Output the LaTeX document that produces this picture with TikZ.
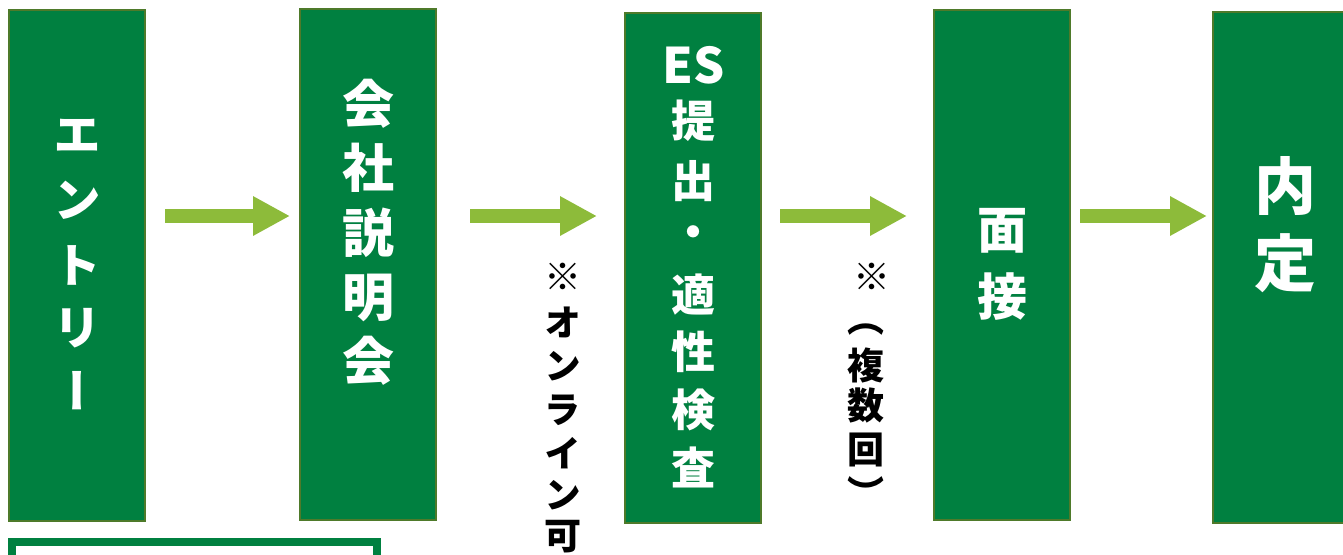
\documentclass[tikz,border=0pt]{standalone}
\usepackage{fontspec}
\usetikzlibrary{arrows.meta}
\newfontfamily\jp{Noto Sans CJK JP}[RawFeature=+vert]
\definecolor{boxg}{RGB}{0,128,64}
\definecolor{boxe}{RGB}{78,122,42}
\definecolor{arrg}{RGB}{141,187,58}
\tikzset{
  stage/.style={draw=boxe, fill=boxg, line width=1.5pt, minimum width=136pt,
    inner sep=0pt, outer sep=0pt, anchor=north west},
  arr/.style={draw=arrg, line width=14pt, -{Triangle[length=37pt,width=37pt]}},
  wt/.style={text=white, inner sep=0pt, outer sep=0pt, anchor=center},
  bt/.style={text=black, inner sep=0pt, outer sep=0pt, anchor=center},
}
\begin{document}
\begin{tikzpicture}[x=1pt,y=-1pt]
\useasboundingbox (0,0) rectangle (1343,554);
% stages
\node[stage, minimum height=511pt] (b1) at (9,10) {};
\node[stage, minimum height=511pt] (b2) at (300,9) {};
\node[stage, minimum height=510pt] (b3) at (625,13) {};
\node[stage, minimum height=510pt] (b4) at (934,10) {};
\node[stage, minimum height=511pt] (b5) at (1213,12) {};
% legend frame
\node[draw=boxg, line width=8pt, minimum width=365pt, minimum height=90pt,
  inner sep=0pt, outer sep=0pt, anchor=north west] (lg) at (12,542) {};
% arrows
\coordinate (ay) at (0,216);
\draw[arr] ([xshift=20pt]b1.east |- ay) -- ([xshift=-10pt]b2.west |- ay);
\draw[arr] ([xshift=34pt]b2.east |- ay) -- ([xshift=-28pt]b3.west |- ay);
\draw[arr] ([xshift=19pt]b3.east |- ay) -- ([xshift=-27pt]b4.west |- ay);
\draw[arr] ([xshift=10pt]b4.east |- ay) -- ([xshift=-6pt]b5.west |- ay);
% texts in stages
\foreach \c/\y [count=\i] in {エ/136,ン/200,ト/265,リ/328,ー/391}
  \node[wt, font=\jp\bfseries\fontsize{48}{48}\selectfont] (ta\i) at (77,\y) {\c};
\foreach \c/\y [count=\i] in {会/104,社/168,説/233,明/298,会/361}
  \node[wt, font=\jp\bfseries\fontsize{52}{52}\selectfont] (tb\i) at (368,\y) {\c};
\node[wt, font=\jp\bfseries\fontsize{49}{49}\selectfont] (tc0) at (694,65) {ES};
\foreach \c/\y [count=\i] in {提/121,出/181,・/237,適/295,性/352,検/410,査/467}
  \node[wt, font=\jp\bfseries\fontsize{44}{44}\selectfont] (tc\i) at (693,\y) {\c};
\foreach \c/\y [count=\i] in {面/231,接/297}
  \node[wt, font=\jp\bfseries\fontsize{50}{50}\selectfont] (td\i) at (1002,\y) {\c};
\foreach \c/\y [count=\i] in {内/186,定/263}
  \node[wt, font=\jp\bfseries\fontsize{62}{62}\selectfont] (te\i) at (1285,\y) {\c};
% notes
\node[bt, font=\jp\bfseries\fontsize{37}{37}\selectfont] (n1) at (563,277) {※};
\foreach \c/\y [count=\i] in {オ/322,ン/366,ラ/410,イ/453,ン/495,可/537}
  \node[bt, font=\jp\bfseries\fontsize{37}{37}\selectfont] (na\i) at (563,\y) {\c};
\node[bt, font=\jp\bfseries\fontsize{37}{37}\selectfont] (n2) at (872,277) {※};
\foreach \c/\y [count=\i] in {︵/330,複/365,数/405,回/450,︶/492}
  \node[bt, font=\jp\bfseries\fontsize{37}{37}\selectfont] (nb\i) at (866,\y) {\c};
\end{tikzpicture}
\end{document}
